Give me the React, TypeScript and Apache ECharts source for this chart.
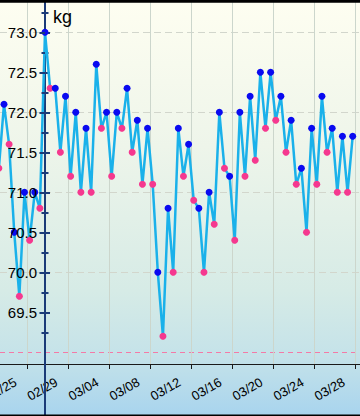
import React, { useEffect, useRef } from "react";
import * as echarts from "echarts";

// ---- data ----
const days = [
  "02/24", "02/25", "02/26", "02/27", "02/28", "02/29",
  "03/01", "03/02", "03/03", "03/04", "03/05", "03/06", "03/07", "03/08", "03/09", "03/10",
  "03/11", "03/12", "03/13", "03/14", "03/15", "03/16", "03/17", "03/18", "03/19", "03/20",
  "03/21", "03/22", "03/23", "03/24", "03/25", "03/26", "03/27", "03/28", "03/29", "03/30",
];
const morning: (number | null)[] = [
  null, 72.1, 70.5, 71.0, 71.0, 73.0,
  72.3, 72.2, 72.0, 71.8, 72.6, 72.0, 72.0, 72.3, 71.9, 71.8,
  70.0, 70.8, 71.8, 71.6, 70.8, 71.0, 72.0, 71.2, 72.0, 72.2,
  72.5, 72.5, 72.2, 71.9, 71.3, 71.8, 72.2, 71.8, 71.7, 71.7,
];
const evening: (number | null)[] = [
  71.3, 71.6, 69.7, 70.4, 70.8, 72.3,
  71.5, 71.2, 71.0, 71.0, 71.8, 71.2, 71.8, 71.5, 71.1, 71.1,
  69.2, 70.0, 71.2, 70.9, 70.0, 70.6, 71.3, 70.4, 71.2, 71.4,
  71.8, 71.9, 71.5, 71.1, 70.5, 71.1, 71.5, 71.0, 71.0, null,
];
const xTickLabels = ["02/25", "02/29", "03/04", "03/08", "03/12", "03/16", "03/20", "03/24", "03/28", "04/01"];
const yMajorTicks = [69.5, 70.0, 70.5, 71.0, 71.5, 72.0, 72.5, 73.0];
const yMinorTicks = [69.25, 69.75, 70.25, 70.75, 71.25, 71.75, 72.25, 72.75, 73.25];
const yGridLines = [70, 71, 72, 73];
const targetWeight = [69.0];
const unitLabel = "kg";

// ---- layout / style ----
const W = 360;
const H = 416;
const AXIS_PX = 45;
const PX_PER_DAY = 10.256;
const PLOT_H = 364;
const Y_TOP_VAL = 73.0;
const Y_TOP_PX = 32.3;
const PX_PER_KG = 80;
const NAVY = "#1b3b78";
const BLUE = "#0a0af0";
const PINK = "#f5388f";
const FONT = "Liberation Sans, Arial, sans-serif";

function dayNum(s: string): number {
  const [m, d] = s.split("/").map(Number);
  const base = Date.UTC(2016, 1, 24);
  return Math.round((Date.UTC(2016, m - 1, d) - base) / 86400000);
}

export default function App() {
  const ref = useRef<HTMLDivElement>(null);
  useEffect(() => {
    document.body.style.margin = "0";
    if (!ref.current) return;
    const chart = echarts.init(ref.current, undefined, { renderer: "svg" });

    const xAtAxis = dayNum(days[5]) + 0.25;
    const xMin = xAtAxis - AXIS_PX / PX_PER_DAY;
    const xMax = xAtAxis + (W - AXIS_PX) / PX_PER_DAY;
    const yMax = Y_TOP_VAL + Y_TOP_PX / PX_PER_KG;
    const yMin = Y_TOP_VAL - (PLOT_H - Y_TOP_PX) / PX_PER_KG;

    const labelPos = xTickLabels.map(dayNum);
    const tickPos = labelPos.map((p) => p - 1.5);

    const points: any[] = [];
    days.forEach((d, i) => {
      const base = dayNum(d);
      if (morning[i] != null) points.push({ value: [base + 0.25, morning[i]], itemStyle: { color: BLUE } });
      if (evening[i] != null) points.push({ value: [base + 0.75, evening[i]], itemStyle: { color: PINK } });
    });

    const yBase = {
      type: "value",
      gridIndex: 0,
      position: "left",
      offset: -AXIS_PX,
      min: yMin,
      max: yMax,
      axisLine: { show: false, onZero: false },
      axisTick: { show: false },
      axisLabel: { show: false },
      splitLine: { show: false },
    };

    chart.setOption({
      animation: false,
      textStyle: { fontFamily: FONT },
      grid: {
        left: 0,
        right: 0,
        top: 0,
        bottom: H - PLOT_H,
        containLabel: false,
        outerBoundsMode: "none",
      },
      xAxis: [
        {
          type: "value",
          min: xMin,
          max: xMax,
          axisLine: { show: true, onZero: false, lineStyle: { color: "#1a1a1a", width: 1 } },
          axisTick: { show: true, customValues: tickPos, length: 5, lineStyle: { color: "#1a1a1a", width: 1 } },
          axisLabel: {
            customValues: labelPos,
            formatter: (v: number) => {
              const i = labelPos.findIndex((p) => Math.abs(p - v) < 0.01);
              return i >= 0 ? xTickLabels[i] : "";
            },
            rotate: 30,
            align: "center",
            verticalAlign: "middle",
            margin: 25,
            fontSize: 13,
            color: "#000",
            fontFamily: FONT,
            showMinLabel: true,
            showMaxLabel: true,
          },
          splitLine: { show: true, lineStyle: { color: "#ccd6cc", width: 1 } },
        },
      ],
      yAxis: [
        {
          ...yBase,
          z: 3,
          axisTick: { show: true, customValues: yMajorTicks, length: 5.5, lineStyle: { color: NAVY, width: 2 } },
          axisLabel: {
            show: true,
            customValues: yMajorTicks,
            formatter: (v: number) => v.toFixed(1),
            fontSize: 15,
            color: "#000",
            margin: 8,
            fontFamily: FONT,
          },
        },
        {
          ...yBase,
          axisLine: { show: true, onZero: false, lineStyle: { color: NAVY, width: 2 } },
          axisTick: { show: true, inside: true, customValues: yMajorTicks, length: 5, lineStyle: { color: NAVY, width: 2 } },
        },
        {
          ...yBase,
          z: 3,
          axisTick: { show: true, customValues: yMinorTicks, length: 3.5, lineStyle: { color: NAVY, width: 2 } },
        },
        {
          ...yBase,
          axisTick: { show: true, inside: true, customValues: yMinorTicks, length: 3.5, lineStyle: { color: NAVY, width: 2 } },
        },
        {
          ...yBase,
          axisTick: { show: false, customValues: yGridLines },
          splitLine: { show: true, lineStyle: { color: "#d2d6cc", width: 1, type: [7, 4] } },
        },
        {
          ...yBase,
          axisTick: { show: false, customValues: targetWeight },
          splitLine: { show: true, lineStyle: { color: "#f47aa6", width: 1, type: [5, 4] } },
        },
      ],
      series: [
        {
          type: "line",
          xAxisIndex: 0,
          yAxisIndex: 0,
          data: points,
          symbol: "circle",
          symbolSize: 7,
          showSymbol: true,
          lineStyle: { color: "#1ab1ea", width: 2.5 },
          z: 2,
          clip: false,
          silent: true,
        },
      ],
      graphic: [
        {
          type: "line",
          shape: { x1: AXIS_PX, y1: PLOT_H, x2: AXIS_PX, y2: H },
          style: { stroke: NAVY, lineWidth: 2 },
          z: 10,
        },
        {
          type: "text",
          x: 53,
          y: 8,
          style: { text: unitLabel, fontSize: 18, fill: "#000", fontFamily: FONT, verticalAlign: "top" },
          z: 10,
        },
        { type: "rect", shape: { x: 0, y: 0, width: W, height: 2.7 }, style: { fill: "#000" }, z: 20 },
        { type: "rect", shape: { x: 0, y: H - 1.5, width: W, height: 1.5 }, style: { fill: "#000" }, z: 20 },
      ],
    });
    return () => chart.dispose();
  }, []);

  return (
    <div
      ref={ref}
      style={{
        width: W,
        height: H,
        background: "linear-gradient(to bottom, #fefef1 0%, #eef5ea 35%, #d6ebe6 70%, #c4e2e9 86%, #a8d4ee 100%)",
      }}
    />
  );
}
